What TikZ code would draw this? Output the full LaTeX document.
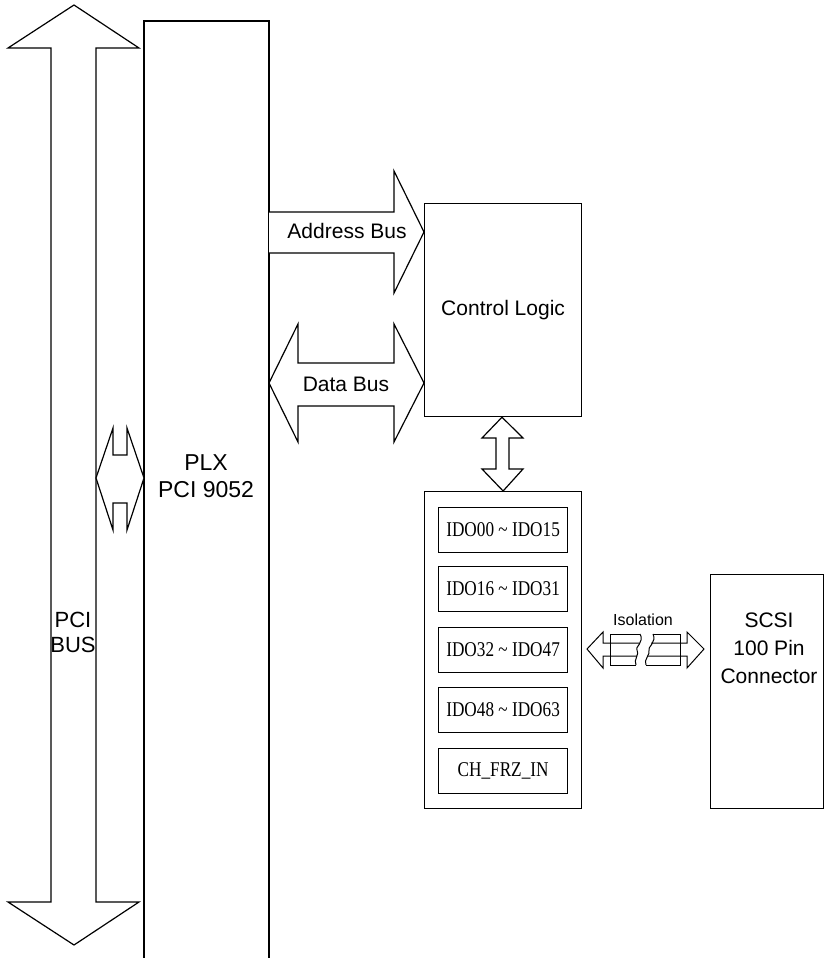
\documentclass[tikz,border=0pt]{standalone}
\usepackage{fontspec}
\setmainfont{Liberation Sans}
\newfontfamily\idoserif{Liberation Serif}
\usepackage{graphicx}
\newcommand{\idotext}[1]{\scalebox{0.82}[1]{\idoserif\fontsize{21}{23}\selectfont #1}}
\begin{document}
\begin{tikzpicture}[x=1pt,y=-1pt,line width=1.2pt,line join=miter,
  box/.style={draw,line width=1.2pt,inner sep=0pt,anchor=north west},
  idobox/.style={draw,line width=1.2pt,inner sep=0pt,anchor=north west,minimum width=129pt,minimum height=45pt},
  lbl/.style={inner sep=0pt,font=\fontsize{21}{24}\selectfont},
  blk/.style={draw,line width=1.2pt,fill=white}]
\useasboundingbox (0,0) rectangle (828,958);
\fill[white] (0,0) rectangle (828,958);
\begin{scope}
\clip (0,0) rectangle (828,958);
% PCI bus double arrow
\draw[blk] (74,5) -- (139,48) -- (96,48) -- (96,902) -- (139,902) -- (74,945)
  -- (8,902) -- (51,902) -- (51,48) -- (8,48) -- cycle;
\node[lbl,align=center,font=\fontsize{22}{25}\selectfont] (pcibus) at (73,632) {PCI\\BUS};
% PLX box (runs off the bottom edge)
\coordinate (plxbl) at (144,962);
\coordinate (plxbr) at (269,962);
\draw (plxbl) -- (144,21) -- (269,21) -- (plxbr);
\node[lbl,align=center,font=\fontsize{23}{27}\selectfont] (plx) at (206,476) {PLX\\PCI 9052};
% small double arrow between PCI bus and PLX
\draw[blk] (96,478) -- (113,428) -- (113,455) -- (127,455) -- (127,428) -- (144,478)
  -- (127,530) -- (127,503) -- (113,503) -- (113,530) -- cycle;
\end{scope}
% Control logic
\node[box,minimum width=157pt,minimum height=213pt] (ctrl) at (424,203) {};
\node[lbl] (ctrltxt) at (ctrl.center) {Control Logic};
% Address bus arrow
\draw[blk] (269,212) -- (394,212) -- (394,171) -- (ctrl.west |- 0,232) -- (394,293) -- (394,253) -- (269,253);
\node[lbl] (addr) at (347,231) {Address Bus};
% Data bus double arrow
\draw[blk] (269,383) -- (298,324) -- (298,363) -- (394,363) -- (394,324) -- (424,383)
  -- (394,442) -- (394,406) -- (298,406) -- (298,442) -- cycle;
\node[lbl] (data) at (346,384) {Data Bus};
% IDO container
\node[box,minimum width=157pt,minimum height=317pt] (ido) at (424,491) {};
% vertical double arrow between control logic and IDO
\draw[blk] (ctrl.south -| 502,0) -- (523,438) -- (509,438) -- (509,469) -- (523,469) -- (ido.north)
  -- (482,469) -- (496,469) -- (496,438) -- (482,438) -- cycle;
\node[idobox] (ido1) at (438,507) {\idotext{IDO00 \textasciitilde{} IDO15}};
\node[idobox] (ido2) at (438,566) {\idotext{IDO16 \textasciitilde{} IDO31}};
\node[idobox] (ido3) at (438,627) {\idotext{IDO32 \textasciitilde{} IDO47}};
\node[idobox] (ido4) at (438,687) {\idotext{IDO48 \textasciitilde{} IDO63}};
\node[idobox] (ido5) at (438,748) {\idotext{CH\_FRZ\_IN}};
% SCSI connector
\node[box,minimum width=113pt,minimum height=234pt] (scsi) at (710,574) {};
\node[lbl,align=center,font=\fontsize{21}{28}\selectfont] (scsitxt) at (769,648) {SCSI\\100 Pin\\Connector};
% Isolation symbol
\node[inner sep=0pt,font=\fontsize{16}{18}\selectfont] (iso) at (643,620) {Isolation};
\begin{scope}[line width=1pt]
\draw (639,643) -- (603,643) -- (603,632) -- (587,649) -- (603,668) -- (603,656) -- (637,656);
\draw (651,643) -- (687,643) -- (687,632) -- (704,649) -- (687,668) -- (687,656) -- (648,656);
\draw (640,634) -- (610,634) -- (610,665) -- (636,665);
\draw (640,634) .. controls (645,642) and (634,648) .. (637,650) .. controls (640,654) and (633,660) .. (636,665);
\draw (653,634) -- (680,634) -- (680,665) -- (646,665);
\draw (653,634) .. controls (657,642) and (647,648) .. (649,650) .. controls (651,654) and (643,660) .. (646,665);
\end{scope}
\end{tikzpicture}
\end{document}
